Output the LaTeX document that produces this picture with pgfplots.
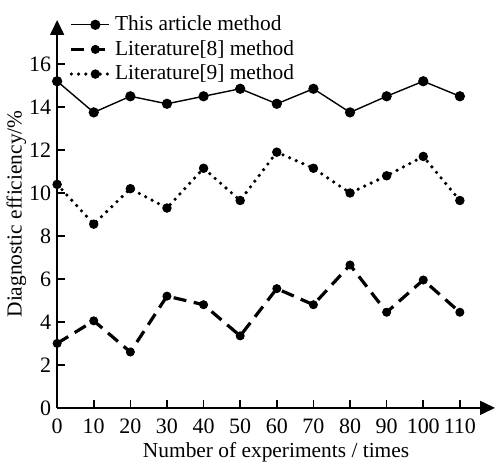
\documentclass[border=0pt]{standalone}
\usepackage{fontspec}
\setmainfont{Liberation Serif}
\usepackage{pgfplots}
\pgfplotsset{compat=1.18}
\usetikzlibrary{arrows.meta}

\begin{document}
\begin{tikzpicture}
\begin{axis}[
    scale only axis,
    width=219pt,
    height=194pt,
    font=\fontsize{10.7}{12.6}\selectfont,
    /pgf/number format/assume math mode=true,
    tick label style={font=\fontsize{11}{13}\selectfont},
    axis lines=left,
    axis line style={line width=0.8pt, -{Triangle[length=7.5pt,width=7pt]}},
    xmin=0, xmax=119.6,
    ymin=0, ymax=18.05,
    xtick={0,10,...,110},
    ytick={0,2,...,16},
    tick align=inside,
    major tick length=4pt,
    tick style={line width=0.8pt, black},
    xticklabel style={yshift=-2pt},
    yticklabel style={xshift=0.5pt},
    xlabel={Number of experiments / times},
    ylabel={Diagnostic efficiency/\%},
    xlabel style={yshift=2.5pt},
    ylabel style={yshift=-5.5pt},
    legend style={draw=none, fill=none, inner sep=0pt,
        at={(0.0275,1.022)}, anchor=north west,
        font=\fontsize{10.7}{12.6}\selectfont, row sep=-0.6pt},
    legend cell align=left,
    legend image code/.code={
        \draw[mark repeat=2, mark phase=2, #1]
            plot coordinates {(0pt,0pt) (12pt,0pt) (19pt,0pt)};
    },
]
\addplot[black, line width=0.7pt, mark=*, mark size=2.2pt] coordinates {
    (0,15.2) (10,13.75) (20,14.5) (30,14.15) (40,14.5) (50,14.85)
    (60,14.15) (70,14.85) (80,13.75) (90,14.5) (100,15.2) (110,14.5)};
\addlegendentry{This article method}

\addplot[black, line width=1.6pt, dash pattern=on 6.5pt off 3.8pt,
    mark=*, mark size=2pt, mark options={solid, line width=0.5pt}] coordinates {
    (0,3.0) (10,4.05) (20,2.6) (30,5.2) (40,4.8) (50,3.35)
    (60,5.55) (70,4.8) (80,6.65) (90,4.45) (100,5.95) (110,4.45)};
\addlegendentry{Literature[8] method}

\addplot[black, line width=1.8pt, line cap=round, dash pattern=on 0pt off 3.6pt,
    mark=*, mark size=2.1pt, mark options={solid, line width=0.5pt}] coordinates {
    (0,10.4) (10,8.55) (20,10.2) (30,9.3) (40,11.15) (50,9.65)
    (60,11.9) (70,11.15) (80,10.0) (90,10.8) (100,11.7) (110,9.65)};
\addlegendentry{Literature[9] method}
\end{axis}
% page margins as in the reference
\path (current axis.north west) ++(-28.5pt,10pt) coordinate (tl);
\path (current axis.south east) ++(2pt,-27pt) coordinate (br);
\path (tl) (br);
\end{tikzpicture}
\end{document}
